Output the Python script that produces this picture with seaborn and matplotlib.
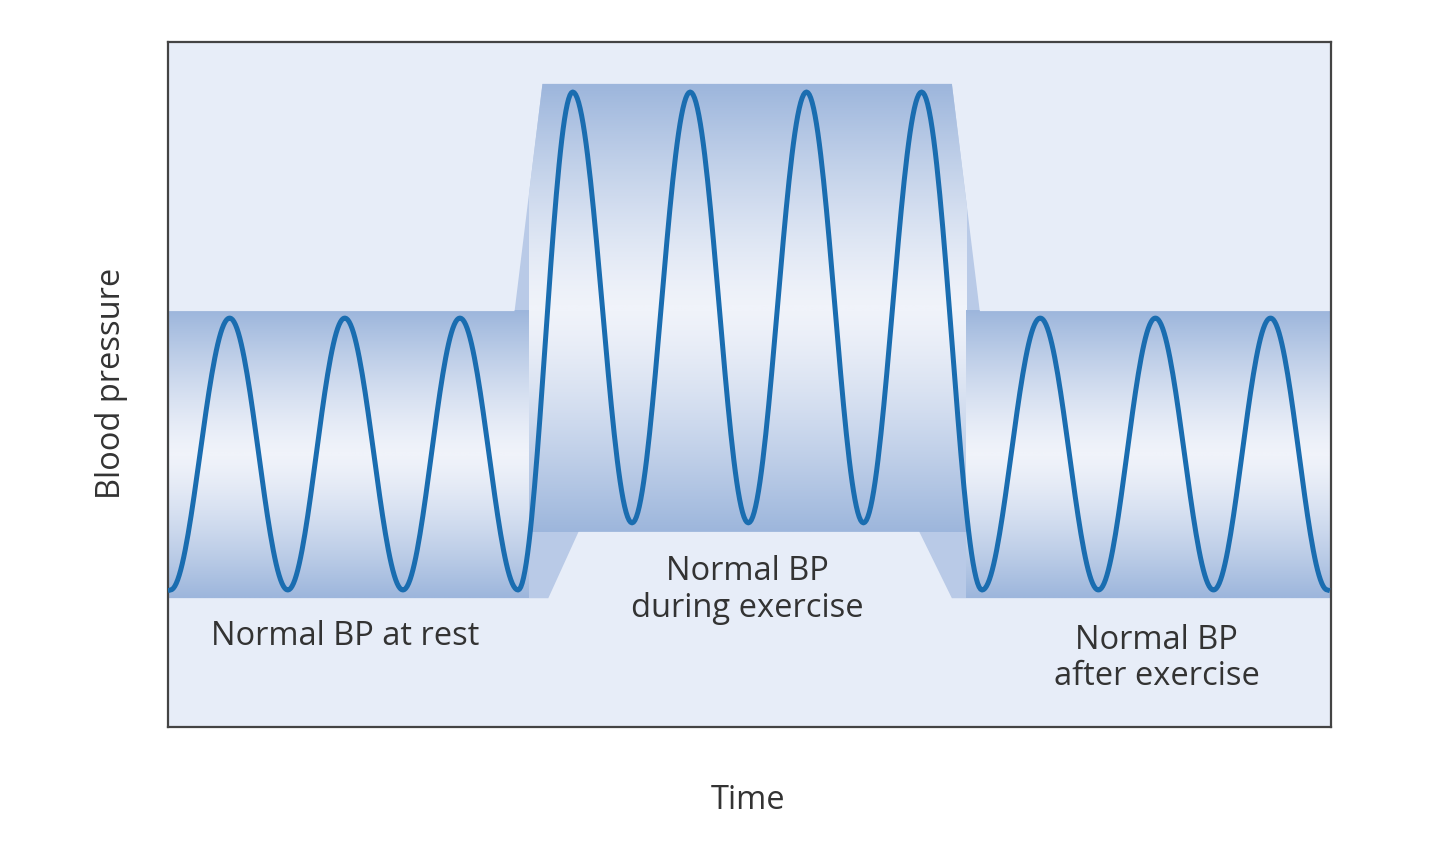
import numpy as np
import pandas as pd
import matplotlib.pyplot as plt
import seaborn as sns
from matplotlib.patches import Polygon
from matplotlib.colors import LinearSegmentedColormap

plt.rcParams['font.family'] = ['Open Sans', 'DejaVu Sans']

# ---- data: wave extrema (time, pressure) ----
ext_time = [0.2, 5.3, 10.3, 15.2, 20.2, 25.1, 30.1, 34.8, 39.9, 44.9, 49.9,
            54.9, 59.8, 64.8, 70.0, 75.0, 80.0, 84.9, 89.9, 94.8, 99.7]
ext_bp = [20.0, 59.7, 20.0, 59.7, 20.0, 59.7, 20.0, 92.7, 29.8, 92.7, 29.8,
          92.7, 29.8, 92.7, 20.0, 59.7, 20.0, 59.7, 20.0, 59.7, 20.0]

# ---- band outline (range of pressure per phase) ----
band_top_t = [0, 29.8, 32.2, 67.4, 69.8, 100]
band_top_v = [60.7, 60.7, 93.9, 93.9, 60.7, 60.7]
band_bot_t = [100, 67.4, 64.6, 35.3, 32.7, 0]
band_bot_v = [18.8, 18.8, 28.5, 28.5, 18.8, 18.8]

labels = ["Normal BP at rest", "Normal BP\nduring exercise", "Normal BP\nafter exercise"]
label_t = [15.2, 49.8, 85.0]
label_v = [13.2, 20.0, 10.0]

# smooth wave: half-cosine between consecutive extrema
ts, vs = [], []
for i in range(len(ext_time) - 1):
    s = np.linspace(0, 1, 40, endpoint=False)
    ts.extend(ext_time[i] + (ext_time[i + 1] - ext_time[i]) * s)
    vs.extend(ext_bp[i] + (ext_bp[i + 1] - ext_bp[i]) * (1 - np.cos(np.pi * s)) / 2)
ts.append(ext_time[-1]); vs.append(ext_bp[-1])
wave = pd.DataFrame({'time': ts, 'bp': vs})

fig = plt.figure(figsize=(14.4, 8.46), dpi=100)
ax = fig.add_axes([168 / 1440, 1 - 727 / 846, 1163 / 1440, 685 / 846])
ax.set_xlim(0, 100)
ax.set_ylim(0, 100)
ax.set_facecolor('#e7edf8')

# band: flat base fill, then a gradient per phase
poly = Polygon(list(zip(band_top_t + band_bot_t, band_top_v + band_bot_v)),
               closed=True, facecolor='#b9cae7', edgecolor='none', zorder=0.8)
ax.add_patch(poly)
g = (np.abs(np.linspace(-1, 1, 256)) ** 1.3).reshape(-1, 1)
cmap = LinearSegmentedColormap.from_list('band', ['#f0f3fa', '#9db6dc'])
for (x0, x1, y0, y1) in [(0, 31.0, 18.8, 60.7), (31.0, 68.6, 28.5, 93.9), (68.6, 100, 18.8, 60.7)]:
    im = ax.imshow(g, extent=(x0, x1, y0, y1), cmap=cmap, aspect='auto',
                   interpolation='bilinear', zorder=1)
    im.set_clip_path(poly)

sns.lineplot(data=wave, x='time', y='bp', color='#1a6db0', linewidth=3.6,
             ax=ax, sort=False, zorder=3)

for lab, t, v in zip(labels, label_t, label_v):
    ax.text(t, v, lab, ha='center', va='center', fontsize=23.5, color='#333333',
            linespacing=1.15, zorder=4)

ax.set_xticks([]); ax.set_yticks([])
ax.set_xlabel(''); ax.set_ylabel('')
for sp in ax.spines.values():
    sp.set_color('#444444'); sp.set_linewidth(1.6)

fig.text(112 / 1440, 1 - 383 / 846, 'Blood pressure', rotation=90, ha='center',
         va='center', fontsize=23.5, color='#333333')
fig.text(748 / 1440, 1 - 800 / 846, 'Time', ha='center', va='center',
         fontsize=23.5, color='#333333')

fig.savefig('out.png', dpi=100, facecolor='white')
